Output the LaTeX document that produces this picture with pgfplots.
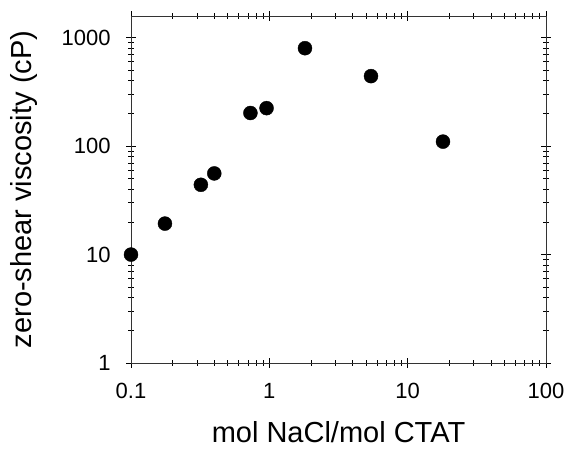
\documentclass[border=0pt]{standalone}
\usepackage{fontspec}
\setmainfont{Liberation Sans}
\usepackage{pgfplots}
\pgfplotsset{compat=1.18}
\begin{document}
\begin{tikzpicture}
\useasboundingbox (0,0) rectangle (569bp,454bp);
\begin{axis}[
    at={(131bp,91bp)}, anchor=south west,
    scale only axis, width=415bp, height=347bp,
    xmode=log, ymode=log,
    xmin=0.1, xmax=100, ymin=1, ymax=1585,
    xtick={0.1,1,10,100}, xticklabels={0.1,1,10,100},
    ytick={1,10,100,1000}, yticklabels={1,10,100,1000},
    minor xtick={0.2,0.3,0.4,0.5,0.6,0.7,0.8,0.9,2,3,4,5,6,7,8,9,20,30,40,50,60,70,80,90},
    minor ytick={2,3,4,5,6,7,8,9,20,30,40,50,60,70,80,90,200,300,400,500,600,700,800,900},
    tick align=center,
    major tick length=10bp, minor tick length=6bp,
    every tick/.style={black, line width=0.7bp},
    axis line style={line width=0.8bp, black!80},
    ticklabel style={font=\fontsize{22bp}{24bp}\selectfont},
    xticklabel style={yshift=-12bp},
    yticklabel style={xshift=-12bp},
    xlabel={mol NaCl/mol CTAT},
    ylabel={zero-shear viscosity (cP)},
    label style={font=\fontsize{29bp}{31bp}\selectfont},
    xlabel style={at={(axis description cs:0.5,-0.2)}, anchor=center},
    ylabel style={at={(axis description cs:-0.258,0.5)}, anchor=center},
]
\addplot[only marks, mark=*, mark size=7bp, black] coordinates {
    (0.1,10) (0.176,19.3) (0.32,44) (0.40,56) (0.73,202)
    (0.955,224) (1.81,800) (5.43,442) (18,110)
};
\end{axis}
\end{tikzpicture}
\end{document}
